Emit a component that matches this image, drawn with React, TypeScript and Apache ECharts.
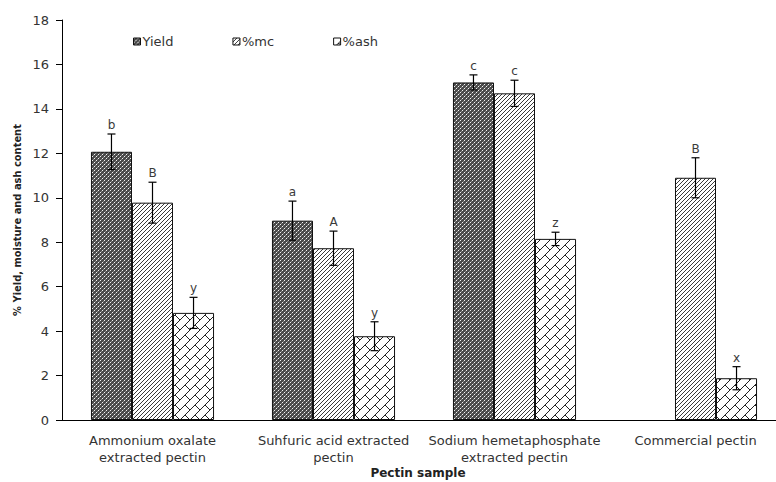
import React, { useEffect, useRef } from "react";
import * as echarts from "echarts";

const categories = [
  "Ammonium oxalate\nextracted pectin",
  "Suhfuric acid extracted\npectin",
  "Sodium hemetaphosphate\nextracted pectin",
  "Commercial pectin",
];
const seriesNames = ["Yield", "%mc", "%ash"];
const yieldValues: (number | null)[] = [12.07, 8.97, 15.19, null];
const yieldErrors: (number | null)[] = [0.8, 0.88, 0.34, null];
const yieldLetters = ["b", "a", "c", ""];
const mcValues = [9.78, 7.73, 14.7, 10.9];
const mcErrors = [0.92, 0.77, 0.59, 0.9];
const mcLetters = ["B", "A", "c", "B"];
const ashValues = [4.82, 3.77, 8.15, 1.88];
const ashErrors = [0.7, 0.65, 0.3, 0.52];
const ashLetters = ["y", "y", "z", "x"];
const yMin = 0;
const yMax = 18;
const yInterval = 2;

function makeTile(size: number, draw: (ctx: CanvasRenderingContext2D) => void) {
  const c = document.createElement("canvas");
  c.width = size;
  c.height = size;
  const ctx = c.getContext("2d")!;
  draw(ctx);
  return c;
}

function yieldPattern() {
  return makeTile(4, (ctx) => {
    ctx.fillStyle = "#4a4a4a";
    ctx.fillRect(0, 0, 4, 4);
    ctx.fillStyle = "#f4f4f4";
    ctx.fillRect(0, 0, 1, 1);
    ctx.fillRect(2, 2, 1, 1);
    ctx.fillStyle = "#8c8c8c";
    ctx.fillRect(1, 3, 1, 1);
    ctx.fillRect(3, 1, 1, 1);
  });
}

function mcPattern() {
  return makeTile(4, (ctx) => {
    ctx.fillStyle = "#ffffff";
    ctx.fillRect(0, 0, 4, 4);
    ctx.fillStyle = "#3a3a3a";
    for (let i = 0; i < 4; i++) ctx.fillRect(3 - i, i, 1, 1);
  });
}

function ashPattern() {
  return makeTile(10, (ctx) => {
    ctx.fillStyle = "#ffffff";
    ctx.fillRect(0, 0, 10, 10);
    ctx.fillStyle = "#222222";
    for (let i = 0; i < 10; i++) ctx.fillRect(9 - i, i, 1, 1);
    for (let i = 5; i < 10; i++) ctx.fillRect(i, i, 1, 1);
  });
}

const GAP = 0.32;

function errorSeries(k: number, values: (number | null)[], errors: (number | null)[], letters: string[]) {
  const data: number[][] = [];
  values.forEach((v, i) => {
    if (v != null && errors[i] != null) data.push([i, v, errors[i] as number]);
  });
  return {
    type: "custom",
    name: "err" + k,
    z: 5,
    silent: true,
    data,
    encode: { x: 0, y: 1 },
    renderItem: (params: any, api: any) => {
      const cat = api.value(0);
      const v = api.value(1);
      const e = api.value(2);
      const bandW = api.size([1, 0])[0];
      const barW = (bandW * (1 - GAP)) / 3;
      const cx = api.coord([cat, v])[0] + (k - 1) * barW;
      const yTop = api.coord([cat, v + e])[1];
      const yBot = api.coord([cat, v - e])[1];
      const st = { stroke: "#000", lineWidth: 1.2 };
      return {
        type: "group",
        children: [
          { type: "line", shape: { x1: cx, y1: yTop, x2: cx, y2: yBot }, style: st },
          { type: "line", shape: { x1: cx - 4, y1: yTop, x2: cx + 4, y2: yTop }, style: st },
          { type: "line", shape: { x1: cx - 4, y1: yBot, x2: cx + 4, y2: yBot }, style: st },
          {
            type: "text",
            style: {
              text: letters[cat],
              x: cx,
              y: yTop - 9,
              align: "center",
              verticalAlign: "middle",
              fill: "#3a3a3a",
              font: "12px 'DejaVu Sans'",
            },
          },
        ],
      };
    },
  };
}

export default function App() {
  const ref = useRef<HTMLDivElement>(null);
  useEffect(() => {
    if (!ref.current) return;
    const chart = echarts.init(ref.current, undefined, { renderer: "svg" });
    const pats = [yieldPattern(), mcPattern(), ashPattern()];
    const vals = [yieldValues, mcValues, ashValues];
    const barSeries = seriesNames.map((name, k) => ({
      type: "bar",
      name,
      data: vals[k].map((v) => (v == null ? "-" : v)),
      barGap: "0%",
      barCategoryGap: GAP * 100 + "%",
      itemStyle: {
        color: { image: pats[k], repeat: "repeat" },
        borderColor: "#111",
        borderWidth: 1,
      },
    }));
    chart.setOption({
      animation: false,
      textStyle: { fontFamily: "'DejaVu Sans', Verdana, sans-serif" },
      legend: {
        data: seriesNames,
        left: 133,
        top: 35,
        padding: 0,
        icon: "rect",
        itemWidth: 7,
        itemHeight: 7,
        itemGap: 59,
        itemStyle: { borderColor: "#111", borderWidth: 1 },
        textStyle: { fontSize: 13, color: "#333", padding: [0, 0, 0, -3] },
      },
      grid: { left: 62, top: 20, width: 724, height: 400, outerBoundsMode: "none", containLabel: false },
      xAxis: {
        type: "category",
        data: categories,
        name: "Pectin sample",
        nameLocation: "middle",
        nameGap: 46,
        nameMoveOverlap: false,
        nameTextStyle: {
          fontWeight: "bold",
          fontSize: 12,
          lineHeight: 13,
          color: "#222",
          padding: [0, 12, 0, 0],
        },
        axisLine: { lineStyle: { color: "#000", width: 1 } },
        axisTick: { length: 5, lineStyle: { color: "#000" } },
        axisLabel: { interval: 0, fontSize: 13, color: "#333", lineHeight: 17, margin: 12 },
      },
      yAxis: {
        type: "value",
        min: yMin,
        max: yMax,
        interval: yInterval,
        name: "% Yield, moisture and ash content",
        nameLocation: "middle",
        nameGap: 39,
        nameMoveOverlap: false,
        nameTextStyle: {
          fontWeight: "bold",
          fontSize: 11,
          color: "#222",
          fontFamily: "'DejaVu Sans Condensed', 'DejaVu Sans', sans-serif",
        },
        splitLine: { show: false },
        axisLine: { show: true, lineStyle: { color: "#000", width: 1 } },
        axisTick: { show: true, length: 6, lineStyle: { color: "#000" } },
        axisLabel: { fontSize: 13, color: "#333", margin: 13 },
      },
      series: [
        ...barSeries,
        errorSeries(0, yieldValues, yieldErrors, yieldLetters),
        errorSeries(1, mcValues, mcErrors, mcLetters),
        errorSeries(2, ashValues, ashErrors, ashLetters),
      ],
    });
    return () => chart.dispose();
  }, []);
  return (
    <div
      style={{
        position: "fixed",
        left: 0,
        top: 0,
        width: 776,
        height: 482,
        overflow: "hidden",
        background: "#fff",
      }}
    >
      <div ref={ref} style={{ width: 776, height: 482 }} />
    </div>
  );
}
